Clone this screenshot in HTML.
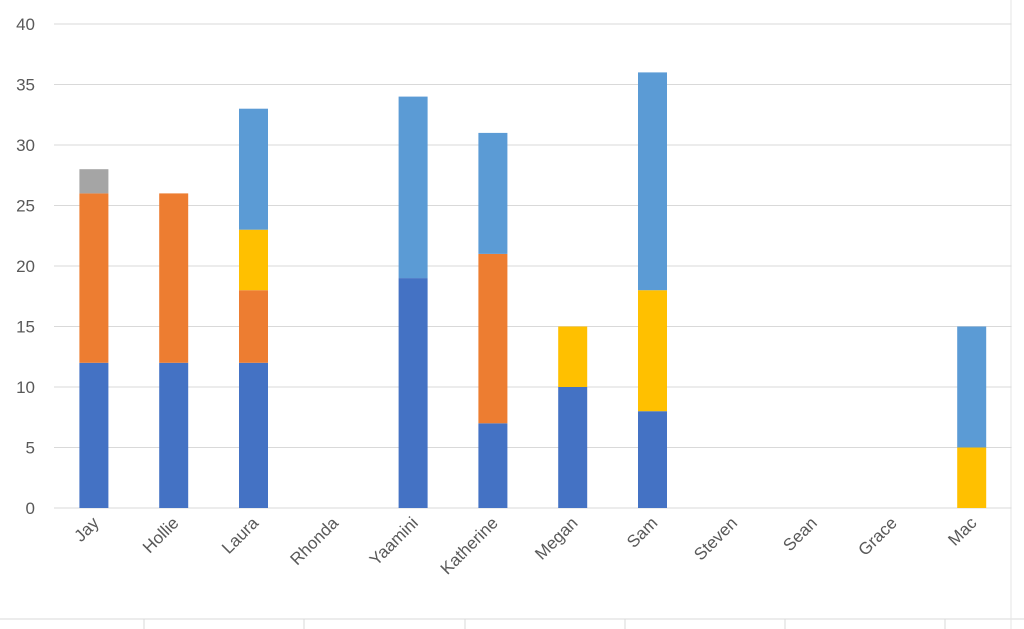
<!DOCTYPE html>
<html><head><meta charset="utf-8"><style>
body{margin:0;background:#fff;}
svg{display:block;font-family:"Liberation Sans",sans-serif;}
</style></head><body>
<svg id="chart" width="1024" height="629" viewBox="0 0 1024 629" xmlns="http://www.w3.org/2000/svg">
<line x1="0" y1="619" x2="1024" y2="619" stroke="#d9d9d9"/>
<g id="tableTicks"></g>
<line x1="1011" y1="0" x2="1011" y2="629" stroke="#e6e6e6"/>
<g id="grid"></g><g id="bars"></g><g id="labels"></g>
</svg>
<script>
const categories=["Jay","Hollie","Laura","Rhonda","Yaamini","Katherine","Megan","Sam","Steven","Sean","Grace","Mac"];
const seriesBlue=[12,12,12,0,19,7,10,8,0,0,0,0];
const seriesOrange=[14,14,6,0,0,14,0,0,0,0,0,0];
const seriesGray=[2,0,0,0,0,0,0,0,0,0,0,0];
const seriesYellow=[0,0,5,0,0,0,5,10,0,0,0,5];
const seriesLightBlue=[0,0,10,0,15,10,0,18,0,0,0,10];
const yTicks=[0,5,10,15,20,25,30,35,40];
const NS="http://www.w3.org/2000/svg";
const L=54,R=1011.6,Y0=508,YT=24,YMAX=40;
const band=(R-L)/categories.length;
const y=v=>Y0-(v/YMAX)*(Y0-YT);
const xc=i=>L+band*(i+0.5);
function mk(t,a,p){const e=document.createElementNS(NS,t);for(const k in a)e.setAttribute(k,a[k]);p.appendChild(e);return e;}
const tt=document.getElementById('tableTicks');
[144,304,465,625,785,945].forEach(x=>{const l=mk('line',{x1:x,y1:619,x2:x,y2:629,stroke:'#d9d9d9'},tt);

});
const g=document.getElementById('grid');
yTicks.forEach(v=>{
 const l=mk('line',{x1:L,x2:R,y1:y(v),y2:y(v),stroke:'#d9d9d9','stroke-width':1},g);
 
 
 const t=mk('text',{x:35,y:y(v)+6,'text-anchor':'end','font-size':17,fill:'#595959'},g);
 t.textContent=v;
 
 
});
const series=[[seriesBlue,'#4472C4','blue'],[seriesOrange,'#ED7D31','orange'],[seriesGray,'#A5A5A5','gray'],[seriesYellow,'#FFC000','yellow'],[seriesLightBlue,'#5B9BD5','light-blue']];
const b=document.getElementById('bars');
const bw=29;
categories.forEach((c,i)=>{
 let acc=0;
 series.forEach(([arr,col,nm])=>{
  const v=arr[i]; if(!v) return;
  const r=mk('rect',{x:xc(i)-bw/2,y:y(acc+v),width:bw,height:y(acc)-y(acc+v),fill:col},b);
  
  
  acc+=v;
 });
});
const lb=document.getElementById('labels');
categories.forEach((c,i)=>{
 const x=xc(i)+6,yy=524;
 const t=mk('text',{x:x,y:yy,'text-anchor':'end','font-size':17,fill:'#595959',transform:`rotate(-45 ${x} ${yy})`},lb);
 t.textContent=c;
 
 
});
</script>
</body></html>
